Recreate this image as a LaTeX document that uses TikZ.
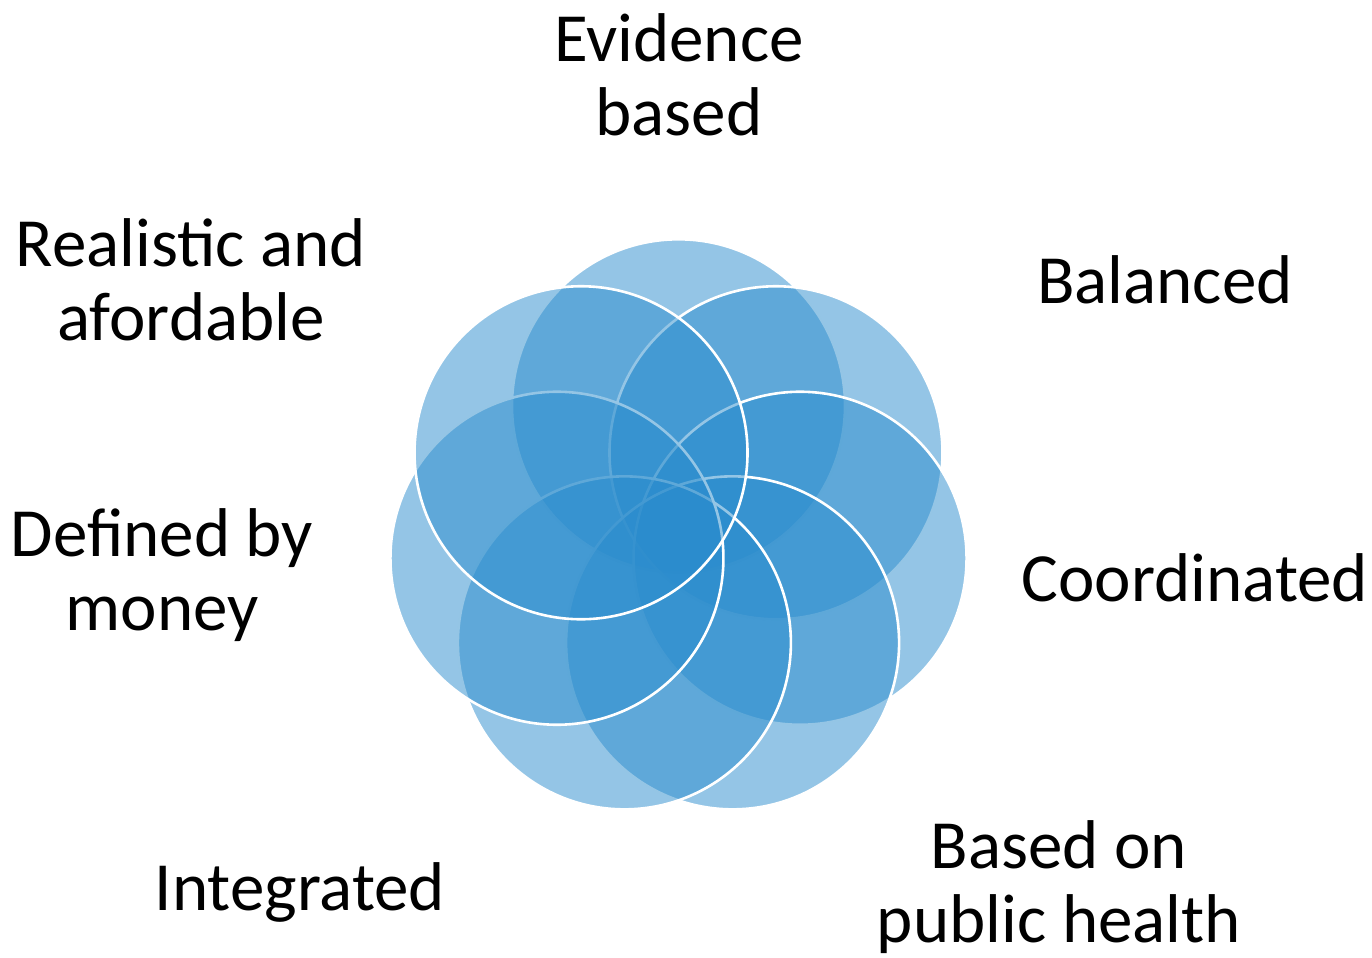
\documentclass[tikz,border=0pt]{standalone}
\usepackage{fontspec}
\setmainfont{Carlito}
\usetikzlibrary{calc}
\definecolor{petalblue}{RGB}{42,140,205}
\begin{document}
\begin{tikzpicture}[
        x=0.5pt, y=-0.5pt,
        petal/.style={circle, draw=white, line width=1.3pt, fill=petalblue, fill opacity=0.5, inner sep=0pt, minimum size=166.5pt},% one circle of the flower
        label/.style={align=center, anchor=base, inner sep=0pt, font=\fontsize{34.5}{37}\selectfont},% text round the flower
    ]
        \useasboundingbox (0,0) rectangle (1372,958);
        \coordinate (hub) at (678.5,530.5);
        % circles, clockwise from the top one
        \foreach \i in {0,...,6}
            \node [petal] (petal\i) at ($(hub)+({-90+\i*360/7}:124.7)$) {};

        % base = baseline of the last line
        \node [label] (evidence) at (679,135) {Evidence\\based};
        \node [label] (balanced) at (1165,303) {Balanced};
        \node [label] (coordinated) at (1195,601) {Coordinated};
        \node [label] (publichealth) at (1059,942) {Based on\\public health};
        \node [label] (integrated) at (300,910) {Integrated};
        \node [label] (money) at (162,630) {Defined by\\money};
        \node [label] (realistic) at (191,340) {Realistic and\\afordable};
    \end{tikzpicture}
\end{document}
